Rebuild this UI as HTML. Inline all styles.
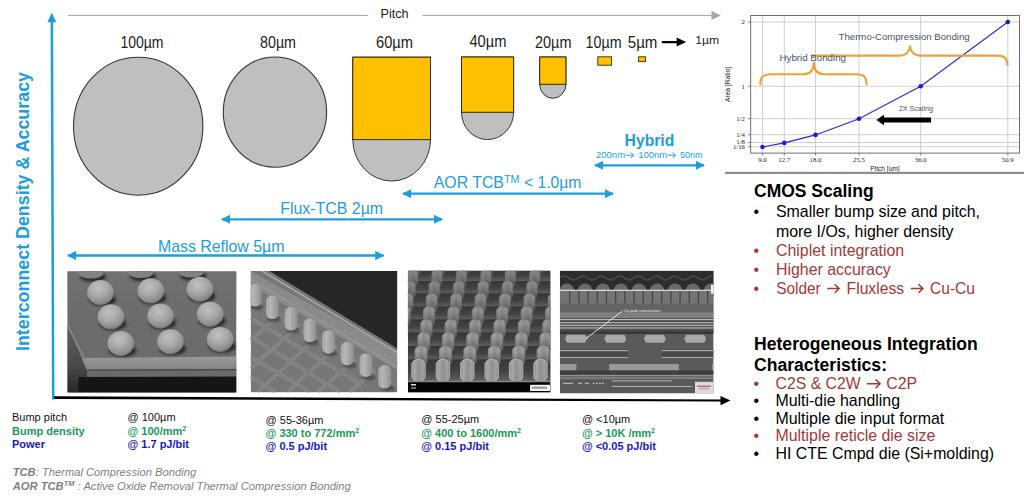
<!DOCTYPE html>
<html><head><meta charset="utf-8">
<style>
html,body{margin:0;padding:0;background:#fff;}
body{width:1024px;height:499px;overflow:hidden;position:relative;font-family:"Liberation Sans",sans-serif;}
svg{position:absolute;left:0;top:0;}

</style></head><body>
<svg width="1024" height="499" viewBox="0 0 1024 499">
<defs>
<marker id="bh" viewBox="0 0 10 10" refX="9" refY="5" markerWidth="4" markerHeight="4" orient="auto-start-reverse"><path d="M0,0 L10,5 L0,10 z" fill="#1c9ddd"/></marker>
<clipPath id="c1"><rect x="67.3" y="271.3" width="169.2" height="121.3"/></clipPath>
<clipPath id="c2"><rect x="250.6" y="271" width="146.7" height="121.4"/></clipPath>
<clipPath id="c3"><rect x="407.9" y="270.7" width="142.6" height="121.7"/></clipPath>
<clipPath id="c4"><rect x="559.9" y="270.7" width="153.7" height="122.8"/></clipPath>
<filter id="blur1" x="-50%" y="-50%" width="200%" height="200%"><feGaussianBlur stdDeviation="1.6"/></filter>
<linearGradient id="g1top" x1="0" y1="0" x2="0" y2="1"><stop offset="0" stop-color="#727272"/><stop offset="1" stop-color="#6c6c6c" stop-opacity="0"/></linearGradient>
<radialGradient id="gb" cx="0.42" cy="0.32" r="0.7"><stop offset="0" stop-color="#c0c0c0"/><stop offset="0.5" stop-color="#a8a8a8"/><stop offset="0.85" stop-color="#8c8c8c"/><stop offset="1" stop-color="#727272"/></radialGradient>
<linearGradient id="gp" x1="0" y1="0" x2="1" y2="0"><stop offset="0" stop-color="#a5a5a5"/><stop offset="0.35" stop-color="#b6b6b6"/><stop offset="1" stop-color="#8e8e8e"/></linearGradient>
<linearGradient id="gp3" x1="0" y1="0" x2="1" y2="0"><stop offset="0" stop-color="#8a8a8a"/><stop offset="0.2" stop-color="#a8a8a8"/><stop offset="0.5" stop-color="#909090"/><stop offset="0.85" stop-color="#a0a0a0"/><stop offset="1" stop-color="#7a7a7a"/></linearGradient>
<linearGradient id="gp3v" x1="0" y1="0" x2="0" y2="1"><stop offset="0.3" stop-color="#000" stop-opacity="0"/><stop offset="1" stop-color="#000" stop-opacity="0.4"/></linearGradient>
<linearGradient id="g3bg" x1="0" y1="0" x2="0" y2="1"><stop offset="0" stop-color="#4a4a4a"/><stop offset="0.6" stop-color="#404040"/><stop offset="1" stop-color="#383838"/></linearGradient>
<linearGradient id="g1wall" x1="0" y1="0" x2="0" y2="1"><stop offset="0" stop-color="#5e5e5e"/><stop offset="0.6" stop-color="#4a4a4a"/><stop offset="1" stop-color="#262626"/></linearGradient>
<linearGradient id="g1band" x1="0" y1="0" x2="0" y2="1"><stop offset="0" stop-color="#9a9a9a"/><stop offset="1" stop-color="#828282"/></linearGradient>
<linearGradient id="g3band" x1="0" y1="0" x2="0" y2="1"><stop offset="0" stop-color="#363636"/><stop offset="0.55" stop-color="#424242"/><stop offset="1" stop-color="#5e5e5e"/></linearGradient>
</defs>
<!-- axes -->
<path d="M50.6,21 L53.1,21 L54.45,399.6 L51.95,399.6 z" fill="#1c9ddd"/>
<path d="M47.4,22.3 L51.8,12.5 L56.2,22.3 z" fill="#1c9ddd"/>
<path d="M54,396.3 L721,399.5 L721,401.6 L54,398.9 z" fill="#000"/>
<path d="M720.5,396 L730.5,400.6 L720.5,405.3 z" fill="#000"/>
<!-- pitch line -->
<rect x="68" y="14.9" width="645" height="1" fill="#a6a6a6"/>
<path d="M711.5,11 L721,15.4 L711.5,19.8 z" fill="#a6a6a6"/>
<rect x="368" y="5" width="54.5" height="18" fill="#fff"/>
<text x="380.5" y="17.7" font-size="12.6" fill="#222">Pitch</text>
<!-- rotated label -->
<text transform="translate(28.5,351) rotate(-90)" font-size="17.85" font-weight="bold" fill="#1c9ddd">Interconnect Density &amp; Accuracy</text>

<!-- size labels -->
<g font-size="16.2" fill="#222">
<text x="120.5" y="48" textLength="43" lengthAdjust="spacingAndGlyphs">100µm</text>
<text x="260" y="48" textLength="36" lengthAdjust="spacingAndGlyphs">80µm</text>
<text x="376" y="47.6" textLength="37" lengthAdjust="spacingAndGlyphs">60µm</text>
<text x="469.4" y="47" textLength="37" lengthAdjust="spacingAndGlyphs">40µm</text>
<text x="535" y="47.6" textLength="36.5" lengthAdjust="spacingAndGlyphs">20µm</text>
<text x="585.6" y="47.6" textLength="36" lengthAdjust="spacingAndGlyphs">10µm</text>
<text x="627.8" y="47.6" textLength="29.6" lengthAdjust="spacingAndGlyphs">5µm</text>
</g>
<text x="695.3" y="44" font-size="11" fill="#222" textLength="24" lengthAdjust="spacingAndGlyphs">1µm</text>
<rect x="661.6" y="41" width="16" height="2.3" rx="1.1" fill="#000"/>
<path d="M676.6,37.6 L686.1,42.1 L676.6,46.6 z" fill="#000"/>

<!-- circles -->
<ellipse cx="138.2" cy="126.2" rx="64.7" ry="69" fill="#bfbfbf" stroke="#333" stroke-width="1.1"/>
<ellipse cx="274.95" cy="112.1" rx="51.65" ry="55.1" fill="#bfbfbf" stroke="#333" stroke-width="1.1"/>
<!-- bumps -->
<path d="M352.8,139.6 L352.8,57.2 L430.5,57.2 L430.5,139.6 A38.85,41.40 0 0 1 352.8,139.6 z" fill="#bfbfbf" stroke="#333" stroke-width="1"/>
<rect x="352.8" y="57.2" width="77.70" height="82.40" fill="#ffc000" stroke="#3a2a00" stroke-width="1"/>
<path d="M461.5,112.3 L461.5,57 L513.6,57 L513.6,112.3 A26.05,27.30 0 0 1 461.5,112.3 z" fill="#bfbfbf" stroke="#333" stroke-width="1"/>
<rect x="461.5" y="57" width="52.10" height="55.30" fill="#ffc000" stroke="#3a2a00" stroke-width="1"/>
<path d="M539.7,84.3 L539.7,57 L565.9,57 L565.9,84.3 A13.10,14.00 0 0 1 539.7,84.3 z" fill="#bfbfbf" stroke="#333" stroke-width="1"/>
<rect x="539.7" y="57" width="26.20" height="27.30" fill="#ffc000" stroke="#3a2a00" stroke-width="1"/>
<rect x="597.8" y="56.8" width="13.8" height="8.4" fill="#ffc000" stroke="#3a2a00" stroke-width="0.9"/>
<rect x="638.6" y="56.8" width="7" height="4.8" fill="#ffc000" stroke="#3a2a00" stroke-width="0.9"/>

<!-- blue arrows -->
<g stroke="#1c9ddd" stroke-width="2.3" fill="none" marker-start="url(#bh)" marker-end="url(#bh)">
<line x1="595" y1="165.3" x2="704" y2="165.3"/>
<line x1="403" y1="193.7" x2="613" y2="193.7"/>
<line x1="222" y1="219.3" x2="442" y2="219.3"/>
<line x1="68" y1="255.5" x2="383.5" y2="255.5"/>
</g>
<g fill="#1c9ddd">
<text x="624.6" y="145.6" font-size="15.7" font-weight="bold">Hybrid</text>
<text x="596" y="158.3" font-size="9.5">200nm</text><path d="M626,155.2 L633.1,155.2 M630.8000000000001,152.39999999999998 L633.6,155.2 L630.8000000000001,158.0" fill="none" stroke="#1c9ddd" stroke-width="1.0" stroke-linejoin="miter"/><text x="638.2" y="158.3" font-size="9.5">100nm</text><path d="M667.8,155.2 L675.1,155.2 M672.8000000000001,152.39999999999998 L675.6,155.2 L672.8000000000001,158.0" fill="none" stroke="#1c9ddd" stroke-width="1.0" stroke-linejoin="miter"/><text x="680" y="158.3" font-size="9.5" textLength="22.5" lengthAdjust="spacingAndGlyphs">50nm</text>
<text x="433.8" y="188" font-size="15.85">AOR TCB<tspan font-size="10.8" dy="-5">TM</tspan><tspan dy="5" font-size="15.7"> &lt; 1.0µm</tspan></text>
<text x="280.3" y="214.1" font-size="15.9">Flux-TCB 2µm</text>
<text x="157.9" y="251.6" font-size="15.9">Mass Reflow 5µm</text>
</g>

<!-- SEM image 1 -->
<g clip-path="url(#c1)">
<rect x="67.3" y="271.3" width="169.2" height="121.3" fill="#6c6c6c"/>
<rect x="67.3" y="271.3" width="169.2" height="60" fill="url(#g1top)"/>
<path d="M67.3,325 L87,371 L87,377 L78.5,393 L67.3,393 z" fill="url(#g1wall)"/>
<path d="M82,358 L236.5,356.5 L236.5,369.5 L87,370 z" fill="url(#g1band)"/>
<path d="M87,370 L236.5,369.5 L236.5,376.5 L87,377 z" fill="#6a6a6a"/><path d="M87,370.2 L236.5,369.7" stroke="#474747" stroke-width="1.2"/>
<path d="M78.5,377 L236.5,376.5 L236.5,393 L78.5,393 z" fill="#151515"/>
<path d="M67.3,325 L88,366" stroke="#8a8a8a" stroke-width="1.5" fill="none"/>
<g fill="#2a2a2a" filter="url(#blur1)">
<ellipse cx="93" cy="277" rx="13" ry="5"/>
<ellipse cx="143" cy="276.5" rx="13" ry="5"/>
<ellipse cx="193.4" cy="276" rx="13" ry="5"/>
<ellipse cx="102.5" cy="299.5" rx="13.5" ry="6.5"/>
<ellipse cx="152.8" cy="297.8" rx="13.5" ry="6.5"/>
<ellipse cx="201.9" cy="296.2" rx="13.5" ry="6.5"/>
<ellipse cx="113" cy="323.8" rx="13.5" ry="6.5"/>
<ellipse cx="162.6" cy="323" rx="13.5" ry="6.5"/>
<ellipse cx="212.2" cy="321.2" rx="13.5" ry="6.5"/>
<ellipse cx="122.8" cy="350.5" rx="13.5" ry="6.5"/>
<ellipse cx="172.5" cy="348.7" rx="13.5" ry="6.5"/>
<ellipse cx="222.2" cy="346.4" rx="13.5" ry="6.5"/>
</g>
<g fill="url(#gb)">
<ellipse cx="91" cy="273" rx="12.5" ry="5.5" fill="#828282"/>
<ellipse cx="141" cy="272.5" rx="12.5" ry="5.5" fill="#828282"/>
<ellipse cx="191.4" cy="272" rx="12.5" ry="5.5" fill="#828282"/>
<ellipse cx="100.5" cy="292.5" rx="13.3" ry="12.5"/>
<ellipse cx="150.8" cy="290.8" rx="13.3" ry="12.5"/>
<ellipse cx="199.9" cy="289.2" rx="13.3" ry="12.5"/>
<ellipse cx="111" cy="316.8" rx="13.3" ry="12.5"/>
<ellipse cx="160.6" cy="316" rx="13.3" ry="12.5"/>
<ellipse cx="210.2" cy="314.2" rx="13.3" ry="12.5"/>
<ellipse cx="120.8" cy="343.5" rx="13.3" ry="12.5"/>
<ellipse cx="170.5" cy="341.7" rx="13.3" ry="12.5"/>
<ellipse cx="220.2" cy="339.4" rx="13.3" ry="12.5"/>
</g>
</g>
<!-- SEM image 2 -->
<g clip-path="url(#c2)">
<rect x="250.6" y="271" width="146.7" height="121.4" fill="#777"/>
<path d="M250.6,271 L250.6,285 L397.3,370 L397.3,352 z" fill="#8a8a8a"/>
<path d="M262,271 L397.3,352.5" stroke="#b0b0b0" stroke-width="1.4"/>
<path d="M250.6,279 L397.3,367" stroke="#a0a0a0" stroke-width="1"/>
<path d="M269.2,271 L397.3,271 L397.3,348.4 z" fill="#262626"/>
<g stroke="#8e8e8e" stroke-width="3" fill="none">
<path d="M250.6,300 L397.3,388"/><path d="M250.6,318 L360,384"/><path d="M250.6,337 L340,392"/><path d="M250.6,357 L310,392"/><path d="M250.6,377 L275,392"/>
<path d="M262,302 L250.6,312"/><path d="M282,314 L250.6,340"/><path d="M300,325 L250.6,368"/><path d="M318,336 L258,392"/><path d="M337,347 L287,392"/><path d="M356,359 L318,392"/><path d="M375,370 L350,392"/>
</g><g stroke="#747474" stroke-width="1" fill="none">
<path d="M250.6,300 L397.3,388"/><path d="M250.6,318 L360,384"/><path d="M250.6,337 L340,392"/><path d="M250.6,357 L310,392"/><path d="M250.6,377 L275,392"/>
<path d="M262,302 L250.6,312"/><path d="M282,314 L250.6,340"/><path d="M300,325 L250.6,368"/><path d="M318,336 L258,392"/><path d="M337,347 L287,392"/><path d="M356,359 L318,392"/><path d="M375,370 L350,392"/>
</g>
<g fill="#4a4a4a" filter="url(#blur1)">
<ellipse cx="257" cy="307" rx="7" ry="3"/><ellipse cx="274" cy="319" rx="7" ry="3"/><ellipse cx="293" cy="330" rx="7" ry="3"/><ellipse cx="312" cy="342" rx="7" ry="3"/>
<ellipse cx="331" cy="353" rx="7" ry="3"/><ellipse cx="350" cy="365" rx="7" ry="3"/><ellipse cx="369" cy="377" rx="7" ry="3"/><ellipse cx="388" cy="388" rx="7" ry="3"/>
</g>
<g fill="url(#gp)">
<rect x="249" y="284" width="12.5" height="22.5" rx="6.2" ry="5.5"/>
<rect x="266" y="295.6" width="12.8" height="23.5" rx="6.3" ry="5.5"/>
<rect x="284.6" y="307" width="13" height="23.5" rx="6.4" ry="5.5"/>
<rect x="303.4" y="318.6" width="13" height="23.5" rx="6.4" ry="5.5"/>
<rect x="322.1" y="330.2" width="13" height="23.5" rx="6.4" ry="5.5"/>
<rect x="340.8" y="341.8" width="13" height="23.5" rx="6.4" ry="5.5"/>
<rect x="359.5" y="353.4" width="13" height="23.5" rx="6.4" ry="5.5"/>
<rect x="378.2" y="365" width="13" height="23.5" rx="6.4" ry="5.5"/>
</g>
</g>
<!-- SEM image 3 -->
<g clip-path="url(#c3)">
<rect x="407.9" y="270.7" width="142.6" height="121.7" fill="url(#g3bg)"/>
<g id="p3bands">
<rect x="407.9" y="260.0" width="142.6" height="10.0" fill="url(#g3band)"/>
<rect x="407.9" y="270.0" width="142.6" height="11.0" fill="url(#g3band)"/>
<rect x="407.9" y="281.0" width="142.6" height="12.5" fill="url(#g3band)"/>
<rect x="407.9" y="293.5" width="142.6" height="13.0" fill="url(#g3band)"/>
<rect x="407.9" y="306.5" width="142.6" height="13.0" fill="url(#g3band)"/>
<rect x="407.9" y="319.5" width="142.6" height="13.0" fill="url(#g3band)"/>
<rect x="407.9" y="332.5" width="142.6" height="13.5" fill="url(#g3band)"/>
<rect x="407.9" y="346.0" width="142.6" height="13.5" fill="url(#g3band)"/>
<rect x="407.9" y="359.5" width="142.6" height="21.0" fill="url(#g3band)"/>
</g>
<g id="p3rows">
<rect x="409.8" y="260.0" width="11.0" height="16.0" rx="5.5" ry="4.5" fill="url(#gp3)" opacity="0.60"/>
<rect x="409.8" y="260.0" width="11.0" height="16.0" rx="5.5" ry="4.5" fill="url(#gp3v)"/>
<rect x="434.2" y="260.0" width="11.0" height="16.0" rx="5.5" ry="4.5" fill="url(#gp3)" opacity="0.60"/>
<rect x="434.2" y="260.0" width="11.0" height="16.0" rx="5.5" ry="4.5" fill="url(#gp3v)"/>
<rect x="458.6" y="260.0" width="11.0" height="16.0" rx="5.5" ry="4.5" fill="url(#gp3)" opacity="0.60"/>
<rect x="458.6" y="260.0" width="11.0" height="16.0" rx="5.5" ry="4.5" fill="url(#gp3v)"/>
<rect x="483.0" y="260.0" width="11.0" height="16.0" rx="5.5" ry="4.5" fill="url(#gp3)" opacity="0.60"/>
<rect x="483.0" y="260.0" width="11.0" height="16.0" rx="5.5" ry="4.5" fill="url(#gp3v)"/>
<rect x="507.4" y="260.0" width="11.0" height="16.0" rx="5.5" ry="4.5" fill="url(#gp3)" opacity="0.60"/>
<rect x="507.4" y="260.0" width="11.0" height="16.0" rx="5.5" ry="4.5" fill="url(#gp3v)"/>
<rect x="531.8" y="260.0" width="11.0" height="16.0" rx="5.5" ry="4.5" fill="url(#gp3)" opacity="0.60"/>
<rect x="531.8" y="260.0" width="11.0" height="16.0" rx="5.5" ry="4.5" fill="url(#gp3v)"/>
<rect x="556.2" y="260.0" width="11.0" height="16.0" rx="5.5" ry="4.5" fill="url(#gp3)" opacity="0.60"/>
<rect x="556.2" y="260.0" width="11.0" height="16.0" rx="5.5" ry="4.5" fill="url(#gp3v)"/>
<rect x="580.6" y="260.0" width="11.0" height="16.0" rx="5.5" ry="4.5" fill="url(#gp3)" opacity="0.60"/>
<rect x="580.6" y="260.0" width="11.0" height="16.0" rx="5.5" ry="4.5" fill="url(#gp3v)"/>
<rect x="407.0" y="270.0" width="11.3" height="17.0" rx="5.7" ry="4.5" fill="url(#gp3)" opacity="0.65"/>
<rect x="407.0" y="270.0" width="11.3" height="17.0" rx="5.7" ry="4.5" fill="url(#gp3v)"/>
<rect x="431.4" y="270.0" width="11.3" height="17.0" rx="5.7" ry="4.5" fill="url(#gp3)" opacity="0.65"/>
<rect x="431.4" y="270.0" width="11.3" height="17.0" rx="5.7" ry="4.5" fill="url(#gp3v)"/>
<rect x="455.8" y="270.0" width="11.3" height="17.0" rx="5.7" ry="4.5" fill="url(#gp3)" opacity="0.65"/>
<rect x="455.8" y="270.0" width="11.3" height="17.0" rx="5.7" ry="4.5" fill="url(#gp3v)"/>
<rect x="480.2" y="270.0" width="11.3" height="17.0" rx="5.7" ry="4.5" fill="url(#gp3)" opacity="0.65"/>
<rect x="480.2" y="270.0" width="11.3" height="17.0" rx="5.7" ry="4.5" fill="url(#gp3v)"/>
<rect x="504.6" y="270.0" width="11.3" height="17.0" rx="5.7" ry="4.5" fill="url(#gp3)" opacity="0.65"/>
<rect x="504.6" y="270.0" width="11.3" height="17.0" rx="5.7" ry="4.5" fill="url(#gp3v)"/>
<rect x="529.0" y="270.0" width="11.3" height="17.0" rx="5.7" ry="4.5" fill="url(#gp3)" opacity="0.65"/>
<rect x="529.0" y="270.0" width="11.3" height="17.0" rx="5.7" ry="4.5" fill="url(#gp3v)"/>
<rect x="553.4" y="270.0" width="11.3" height="17.0" rx="5.7" ry="4.5" fill="url(#gp3)" opacity="0.65"/>
<rect x="553.4" y="270.0" width="11.3" height="17.0" rx="5.7" ry="4.5" fill="url(#gp3v)"/>
<rect x="577.8" y="270.0" width="11.3" height="17.0" rx="5.7" ry="4.5" fill="url(#gp3)" opacity="0.65"/>
<rect x="577.8" y="270.0" width="11.3" height="17.0" rx="5.7" ry="4.5" fill="url(#gp3v)"/>
<rect x="404.2" y="281.0" width="11.6" height="18.5" rx="5.8" ry="4.5" fill="url(#gp3)" opacity="0.70"/>
<rect x="404.2" y="281.0" width="11.6" height="18.5" rx="5.8" ry="4.5" fill="url(#gp3v)"/>
<rect x="428.6" y="281.0" width="11.6" height="18.5" rx="5.8" ry="4.5" fill="url(#gp3)" opacity="0.70"/>
<rect x="428.6" y="281.0" width="11.6" height="18.5" rx="5.8" ry="4.5" fill="url(#gp3v)"/>
<rect x="453.0" y="281.0" width="11.6" height="18.5" rx="5.8" ry="4.5" fill="url(#gp3)" opacity="0.70"/>
<rect x="453.0" y="281.0" width="11.6" height="18.5" rx="5.8" ry="4.5" fill="url(#gp3v)"/>
<rect x="477.4" y="281.0" width="11.6" height="18.5" rx="5.8" ry="4.5" fill="url(#gp3)" opacity="0.70"/>
<rect x="477.4" y="281.0" width="11.6" height="18.5" rx="5.8" ry="4.5" fill="url(#gp3v)"/>
<rect x="501.8" y="281.0" width="11.6" height="18.5" rx="5.8" ry="4.5" fill="url(#gp3)" opacity="0.70"/>
<rect x="501.8" y="281.0" width="11.6" height="18.5" rx="5.8" ry="4.5" fill="url(#gp3v)"/>
<rect x="526.2" y="281.0" width="11.6" height="18.5" rx="5.8" ry="4.5" fill="url(#gp3)" opacity="0.70"/>
<rect x="526.2" y="281.0" width="11.6" height="18.5" rx="5.8" ry="4.5" fill="url(#gp3v)"/>
<rect x="550.6" y="281.0" width="11.6" height="18.5" rx="5.8" ry="4.5" fill="url(#gp3)" opacity="0.70"/>
<rect x="550.6" y="281.0" width="11.6" height="18.5" rx="5.8" ry="4.5" fill="url(#gp3v)"/>
<rect x="575.0" y="281.0" width="11.6" height="18.5" rx="5.8" ry="4.5" fill="url(#gp3)" opacity="0.70"/>
<rect x="575.0" y="281.0" width="11.6" height="18.5" rx="5.8" ry="4.5" fill="url(#gp3v)"/>
<rect x="401.4" y="293.5" width="11.9" height="19.0" rx="6.0" ry="4.5" fill="url(#gp3)" opacity="0.75"/>
<rect x="401.4" y="293.5" width="11.9" height="19.0" rx="6.0" ry="4.5" fill="url(#gp3v)"/>
<rect x="425.8" y="293.5" width="11.9" height="19.0" rx="6.0" ry="4.5" fill="url(#gp3)" opacity="0.75"/>
<rect x="425.8" y="293.5" width="11.9" height="19.0" rx="6.0" ry="4.5" fill="url(#gp3v)"/>
<rect x="450.2" y="293.5" width="11.9" height="19.0" rx="6.0" ry="4.5" fill="url(#gp3)" opacity="0.75"/>
<rect x="450.2" y="293.5" width="11.9" height="19.0" rx="6.0" ry="4.5" fill="url(#gp3v)"/>
<rect x="474.6" y="293.5" width="11.9" height="19.0" rx="6.0" ry="4.5" fill="url(#gp3)" opacity="0.75"/>
<rect x="474.6" y="293.5" width="11.9" height="19.0" rx="6.0" ry="4.5" fill="url(#gp3v)"/>
<rect x="499.0" y="293.5" width="11.9" height="19.0" rx="6.0" ry="4.5" fill="url(#gp3)" opacity="0.75"/>
<rect x="499.0" y="293.5" width="11.9" height="19.0" rx="6.0" ry="4.5" fill="url(#gp3v)"/>
<rect x="523.4" y="293.5" width="11.9" height="19.0" rx="6.0" ry="4.5" fill="url(#gp3)" opacity="0.75"/>
<rect x="523.4" y="293.5" width="11.9" height="19.0" rx="6.0" ry="4.5" fill="url(#gp3v)"/>
<rect x="547.8" y="293.5" width="11.9" height="19.0" rx="6.0" ry="4.5" fill="url(#gp3)" opacity="0.75"/>
<rect x="547.8" y="293.5" width="11.9" height="19.0" rx="6.0" ry="4.5" fill="url(#gp3v)"/>
<rect x="572.2" y="293.5" width="11.9" height="19.0" rx="6.0" ry="4.5" fill="url(#gp3)" opacity="0.75"/>
<rect x="572.2" y="293.5" width="11.9" height="19.0" rx="6.0" ry="4.5" fill="url(#gp3v)"/>
<rect x="398.6" y="306.5" width="12.2" height="19.0" rx="6.1" ry="4.5" fill="url(#gp3)" opacity="0.80"/>
<rect x="398.6" y="306.5" width="12.2" height="19.0" rx="6.1" ry="4.5" fill="url(#gp3v)"/>
<rect x="423.0" y="306.5" width="12.2" height="19.0" rx="6.1" ry="4.5" fill="url(#gp3)" opacity="0.80"/>
<rect x="423.0" y="306.5" width="12.2" height="19.0" rx="6.1" ry="4.5" fill="url(#gp3v)"/>
<rect x="447.4" y="306.5" width="12.2" height="19.0" rx="6.1" ry="4.5" fill="url(#gp3)" opacity="0.80"/>
<rect x="447.4" y="306.5" width="12.2" height="19.0" rx="6.1" ry="4.5" fill="url(#gp3v)"/>
<rect x="471.8" y="306.5" width="12.2" height="19.0" rx="6.1" ry="4.5" fill="url(#gp3)" opacity="0.80"/>
<rect x="471.8" y="306.5" width="12.2" height="19.0" rx="6.1" ry="4.5" fill="url(#gp3v)"/>
<rect x="496.2" y="306.5" width="12.2" height="19.0" rx="6.1" ry="4.5" fill="url(#gp3)" opacity="0.80"/>
<rect x="496.2" y="306.5" width="12.2" height="19.0" rx="6.1" ry="4.5" fill="url(#gp3v)"/>
<rect x="520.6" y="306.5" width="12.2" height="19.0" rx="6.1" ry="4.5" fill="url(#gp3)" opacity="0.80"/>
<rect x="520.6" y="306.5" width="12.2" height="19.0" rx="6.1" ry="4.5" fill="url(#gp3v)"/>
<rect x="545.0" y="306.5" width="12.2" height="19.0" rx="6.1" ry="4.5" fill="url(#gp3)" opacity="0.80"/>
<rect x="545.0" y="306.5" width="12.2" height="19.0" rx="6.1" ry="4.5" fill="url(#gp3v)"/>
<rect x="569.4" y="306.5" width="12.2" height="19.0" rx="6.1" ry="4.5" fill="url(#gp3)" opacity="0.80"/>
<rect x="569.4" y="306.5" width="12.2" height="19.0" rx="6.1" ry="4.5" fill="url(#gp3v)"/>
<rect x="395.8" y="319.5" width="12.5" height="19.0" rx="6.2" ry="4.5" fill="url(#gp3)" opacity="0.85"/>
<rect x="395.8" y="319.5" width="12.5" height="19.0" rx="6.2" ry="4.5" fill="url(#gp3v)"/>
<rect x="420.2" y="319.5" width="12.5" height="19.0" rx="6.2" ry="4.5" fill="url(#gp3)" opacity="0.85"/>
<rect x="420.2" y="319.5" width="12.5" height="19.0" rx="6.2" ry="4.5" fill="url(#gp3v)"/>
<rect x="444.6" y="319.5" width="12.5" height="19.0" rx="6.2" ry="4.5" fill="url(#gp3)" opacity="0.85"/>
<rect x="444.6" y="319.5" width="12.5" height="19.0" rx="6.2" ry="4.5" fill="url(#gp3v)"/>
<rect x="469.0" y="319.5" width="12.5" height="19.0" rx="6.2" ry="4.5" fill="url(#gp3)" opacity="0.85"/>
<rect x="469.0" y="319.5" width="12.5" height="19.0" rx="6.2" ry="4.5" fill="url(#gp3v)"/>
<rect x="493.4" y="319.5" width="12.5" height="19.0" rx="6.2" ry="4.5" fill="url(#gp3)" opacity="0.85"/>
<rect x="493.4" y="319.5" width="12.5" height="19.0" rx="6.2" ry="4.5" fill="url(#gp3v)"/>
<rect x="517.8" y="319.5" width="12.5" height="19.0" rx="6.2" ry="4.5" fill="url(#gp3)" opacity="0.85"/>
<rect x="517.8" y="319.5" width="12.5" height="19.0" rx="6.2" ry="4.5" fill="url(#gp3v)"/>
<rect x="542.2" y="319.5" width="12.5" height="19.0" rx="6.2" ry="4.5" fill="url(#gp3)" opacity="0.85"/>
<rect x="542.2" y="319.5" width="12.5" height="19.0" rx="6.2" ry="4.5" fill="url(#gp3v)"/>
<rect x="566.6" y="319.5" width="12.5" height="19.0" rx="6.2" ry="4.5" fill="url(#gp3)" opacity="0.85"/>
<rect x="566.6" y="319.5" width="12.5" height="19.0" rx="6.2" ry="4.5" fill="url(#gp3v)"/>
<rect x="393.0" y="332.5" width="12.8" height="19.5" rx="6.4" ry="4.5" fill="url(#gp3)" opacity="0.90"/>
<rect x="393.0" y="332.5" width="12.8" height="19.5" rx="6.4" ry="4.5" fill="url(#gp3v)"/>
<rect x="417.4" y="332.5" width="12.8" height="19.5" rx="6.4" ry="4.5" fill="url(#gp3)" opacity="0.90"/>
<rect x="417.4" y="332.5" width="12.8" height="19.5" rx="6.4" ry="4.5" fill="url(#gp3v)"/>
<rect x="441.8" y="332.5" width="12.8" height="19.5" rx="6.4" ry="4.5" fill="url(#gp3)" opacity="0.90"/>
<rect x="441.8" y="332.5" width="12.8" height="19.5" rx="6.4" ry="4.5" fill="url(#gp3v)"/>
<rect x="466.2" y="332.5" width="12.8" height="19.5" rx="6.4" ry="4.5" fill="url(#gp3)" opacity="0.90"/>
<rect x="466.2" y="332.5" width="12.8" height="19.5" rx="6.4" ry="4.5" fill="url(#gp3v)"/>
<rect x="490.6" y="332.5" width="12.8" height="19.5" rx="6.4" ry="4.5" fill="url(#gp3)" opacity="0.90"/>
<rect x="490.6" y="332.5" width="12.8" height="19.5" rx="6.4" ry="4.5" fill="url(#gp3v)"/>
<rect x="515.0" y="332.5" width="12.8" height="19.5" rx="6.4" ry="4.5" fill="url(#gp3)" opacity="0.90"/>
<rect x="515.0" y="332.5" width="12.8" height="19.5" rx="6.4" ry="4.5" fill="url(#gp3v)"/>
<rect x="539.4" y="332.5" width="12.8" height="19.5" rx="6.4" ry="4.5" fill="url(#gp3)" opacity="0.90"/>
<rect x="539.4" y="332.5" width="12.8" height="19.5" rx="6.4" ry="4.5" fill="url(#gp3v)"/>
<rect x="563.8" y="332.5" width="12.8" height="19.5" rx="6.4" ry="4.5" fill="url(#gp3)" opacity="0.90"/>
<rect x="563.8" y="332.5" width="12.8" height="19.5" rx="6.4" ry="4.5" fill="url(#gp3v)"/>
<rect x="390.2" y="346.0" width="13.1" height="19.5" rx="6.5" ry="4.5" fill="url(#gp3)" opacity="0.95"/>
<rect x="390.2" y="346.0" width="13.1" height="19.5" rx="6.5" ry="4.5" fill="url(#gp3v)"/>
<rect x="414.6" y="346.0" width="13.1" height="19.5" rx="6.5" ry="4.5" fill="url(#gp3)" opacity="0.95"/>
<rect x="414.6" y="346.0" width="13.1" height="19.5" rx="6.5" ry="4.5" fill="url(#gp3v)"/>
<rect x="439.0" y="346.0" width="13.1" height="19.5" rx="6.5" ry="4.5" fill="url(#gp3)" opacity="0.95"/>
<rect x="439.0" y="346.0" width="13.1" height="19.5" rx="6.5" ry="4.5" fill="url(#gp3v)"/>
<rect x="463.4" y="346.0" width="13.1" height="19.5" rx="6.5" ry="4.5" fill="url(#gp3)" opacity="0.95"/>
<rect x="463.4" y="346.0" width="13.1" height="19.5" rx="6.5" ry="4.5" fill="url(#gp3v)"/>
<rect x="487.8" y="346.0" width="13.1" height="19.5" rx="6.5" ry="4.5" fill="url(#gp3)" opacity="0.95"/>
<rect x="487.8" y="346.0" width="13.1" height="19.5" rx="6.5" ry="4.5" fill="url(#gp3v)"/>
<rect x="512.2" y="346.0" width="13.1" height="19.5" rx="6.5" ry="4.5" fill="url(#gp3)" opacity="0.95"/>
<rect x="512.2" y="346.0" width="13.1" height="19.5" rx="6.5" ry="4.5" fill="url(#gp3v)"/>
<rect x="536.6" y="346.0" width="13.1" height="19.5" rx="6.5" ry="4.5" fill="url(#gp3)" opacity="0.95"/>
<rect x="536.6" y="346.0" width="13.1" height="19.5" rx="6.5" ry="4.5" fill="url(#gp3v)"/>
<rect x="561.0" y="346.0" width="13.1" height="19.5" rx="6.5" ry="4.5" fill="url(#gp3)" opacity="0.95"/>
<rect x="561.0" y="346.0" width="13.1" height="19.5" rx="6.5" ry="4.5" fill="url(#gp3v)"/>
<rect x="387.4" y="359.5" width="13.4" height="22.0" rx="6.7" ry="4.5" fill="url(#gp3)" opacity="1.00" stroke="#c4c4c4" stroke-width="0.8"/>
<rect x="411.8" y="359.5" width="13.4" height="22.0" rx="6.7" ry="4.5" fill="url(#gp3)" opacity="1.00" stroke="#c4c4c4" stroke-width="0.8"/>
<rect x="436.2" y="359.5" width="13.4" height="22.0" rx="6.7" ry="4.5" fill="url(#gp3)" opacity="1.00" stroke="#c4c4c4" stroke-width="0.8"/>
<rect x="460.6" y="359.5" width="13.4" height="22.0" rx="6.7" ry="4.5" fill="url(#gp3)" opacity="1.00" stroke="#c4c4c4" stroke-width="0.8"/>
<rect x="485.0" y="359.5" width="13.4" height="22.0" rx="6.7" ry="4.5" fill="url(#gp3)" opacity="1.00" stroke="#c4c4c4" stroke-width="0.8"/>
<rect x="509.4" y="359.5" width="13.4" height="22.0" rx="6.7" ry="4.5" fill="url(#gp3)" opacity="1.00" stroke="#c4c4c4" stroke-width="0.8"/>
<rect x="533.8" y="359.5" width="13.4" height="22.0" rx="6.7" ry="4.5" fill="url(#gp3)" opacity="1.00" stroke="#c4c4c4" stroke-width="0.8"/>
<rect x="558.2" y="359.5" width="13.4" height="22.0" rx="6.7" ry="4.5" fill="url(#gp3)" opacity="1.00" stroke="#c4c4c4" stroke-width="0.8"/>
</g>
<rect x="407.9" y="380.5" width="142.6" height="2" fill="#8a8a8a"/>
<rect x="407.9" y="382.3" width="142.6" height="10.2" fill="#050505"/>
<rect x="530.1" y="384.8" width="19.9" height="6.2" fill="#f2f2f2"/><rect x="532" y="386.6" width="15" height="2.2" fill="#9a9a9a"/>
<rect x="411" y="384" width="5" height="1.5" fill="#ddd"/>
<rect x="411" y="387.5" width="5" height="1" fill="#ddd"/>
</g>
<!-- SEM image 4 -->
<g clip-path="url(#c4)">
<rect x="559.9" y="270.7" width="153.7" height="122.8" fill="#5a5a5a"/>
<rect x="559.9" y="270.7" width="153.7" height="19.7" fill="#2c2c2c"/>
<path d="M559.9,278 q4.6,-4 9.2,0 t9.2,0 t9.2,0 t9.2,0 t9.2,0 t9.2,0 t9.2,0 t9.2,0 t9.2,0 t9.2,0 t9.2,0 t9.2,0 t9.2,0 t9.2,0 t9.2,0 t9.2,0 t9.2,0" stroke="#4c4c4c" stroke-width="1.6" fill="none"/>
<g fill="#6a6a6a">
<ellipse cx="567" cy="290" rx="7" ry="6.5"/><ellipse cx="585" cy="290" rx="7" ry="6.5"/><ellipse cx="603" cy="290" rx="7" ry="6.5"/><ellipse cx="621" cy="290" rx="7" ry="6.5"/>
<ellipse cx="639" cy="290" rx="7" ry="6.5"/><ellipse cx="657" cy="290" rx="7" ry="6.5"/><ellipse cx="675" cy="290" rx="7" ry="6.5"/><ellipse cx="693" cy="290" rx="7" ry="6.5"/><ellipse cx="711" cy="290" rx="7" ry="6.5"/>
</g>
<rect x="559.9" y="290.4" width="153.7" height="13.5" fill="#747474"/>
<rect x="559.9" y="289.7" width="153.7" height="1.3" fill="#d6d6d6"/>
<g fill="#454545"><rect x="569" y="291" width="1.3" height="12.5"/><rect x="578.2" y="291" width="1.3" height="12.5"/><rect x="587.4" y="291" width="1.3" height="12.5"/><rect x="596.6" y="291" width="1.3" height="12.5"/><rect x="605.8" y="291" width="1.3" height="12.5"/><rect x="615" y="291" width="1.3" height="12.5"/><rect x="624.2" y="291" width="1.3" height="12.5"/><rect x="633.4" y="291" width="1.3" height="12.5"/><rect x="642.6" y="291" width="1.3" height="12.5"/><rect x="651.8" y="291" width="1.3" height="12.5"/><rect x="661" y="291" width="1.3" height="12.5"/><rect x="670.2" y="291" width="1.3" height="12.5"/><rect x="679.4" y="291" width="1.3" height="12.5"/><rect x="688.6" y="291" width="1.3" height="12.5"/><rect x="697.8" y="291" width="1.3" height="12.5"/><rect x="707" y="291" width="1.3" height="12.5"/></g>
<rect x="559.9" y="303.9" width="153.7" height="8.3" fill="#646464"/>
<rect x="559.9" y="312.2" width="153.7" height="6" fill="#7e7e7e"/>
<rect x="559.9" y="318" width="153.7" height="13" fill="#4e4e4e"/>
<g fill="#bdbdbd"><rect x="559.9" y="319" width="153.7" height="1.1"/><rect x="559.9" y="322.2" width="153.7" height="1.1"/><rect x="559.9" y="324.8" width="153.7" height="1.1"/><rect x="559.9" y="327.4" width="153.7" height="1.1"/></g>
<rect x="559.9" y="331" width="153.7" height="3" fill="#3a3a3a"/>
<g fill="#a9a9a9">
<path d="M567,334.8 L585,334.8 L587,338.7 L585,342.7 L567,342.7 L565,338.7 z"/>
<path d="M606.4,334.8 L624.4,334.8 L626.4,338.7 L624.4,342.7 L606.4,342.7 L604.4,338.7 z"/>
<path d="M645.8,334.8 L663.8,334.8 L665.8,338.7 L663.8,342.7 L645.8,342.7 L643.8,338.7 z"/>
<path d="M686.2,334.8 L704.2,334.8 L706.2,338.7 L704.2,342.7 L686.2,342.7 L684.2,338.7 z"/>
</g>
<rect x="559.9" y="349.5" width="68" height="9" fill="#4a4a4a"/><rect x="661.5" y="349.5" width="52.1" height="9" fill="#4a4a4a"/>
<g fill="#a5a5a5"><rect x="559.9" y="350" width="68" height="1.2"/><rect x="559.9" y="356.9" width="68" height="1.2"/><rect x="661.5" y="350" width="52" height="1.2"/><rect x="661.5" y="356.9" width="52" height="1.2"/></g>
<g fill="#9a9a9a"><rect x="559.9" y="364.1" width="16.5" height="6.4"/><rect x="609.1" y="364.1" width="69.8" height="6.4"/><rect x="712" y="364.1" width="2" height="6.4"/></g>
<rect x="559.9" y="370.5" width="153.7" height="4" fill="#3e3e3e"/>
<g fill="#a0a0a0"><rect x="559.9" y="375.2" width="153.7" height="1"/><rect x="559.9" y="377.6" width="153.7" height="1"/></g>
<g fill="#c8c8c8"><rect x="563" y="382.8" width="10" height="1"/><rect x="578" y="382.8" width="4" height="1"/><rect x="585" y="382.8" width="4" height="1"/><rect x="593" y="382.8" width="2" height="1"/><rect x="596" y="382.8" width="2" height="1"/><rect x="599" y="382.8" width="2" height="1"/><rect x="602" y="382.8" width="2" height="1"/><rect x="612" y="380.5" width="60" height="0.8"/><rect x="612" y="386" width="80" height="0.8"/></g>
<rect x="695" y="381.8" width="18.6" height="11.7" fill="#e2dada"/><rect x="697" y="385.5" width="14" height="1.6" fill="#b07a7a"/><rect x="699" y="388.4" width="10" height="1" fill="#b59090"/>
<rect x="711" y="284.7" width="3" height="9" fill="#f4f4f4"/>
<path d="M587.2,337.6 L622.4,311" stroke="#f0f0f0" stroke-width="0.9"/>
<circle cx="587.2" cy="337.6" r="0.9" fill="#fff"/>
<text x="623.7" y="312" font-size="4.2" fill="#eee">Cu pad connections</text>
</g>

<!-- bottom table -->
<g font-size="11">
<text x="12" y="421.3" fill="#111">Bump pitch</text>
<text x="12" y="435" fill="#20985a" font-weight="bold">Bump density</text>
<text x="12" y="448.3" fill="#1818c0" font-weight="bold">Power</text>
<text x="127.5" y="421.3" fill="#111">@ 100µm</text>
<text x="127.5" y="435" fill="#20985a" font-weight="bold">@ 100/mm<tspan font-size="7" dy="-4">2</tspan></text>
<text x="127.5" y="448.3" fill="#1818c0" font-weight="bold">@ 1.7 pJ/bit</text>
<text x="265.6" y="423.5" fill="#111">@ 55-36µm</text>
<text x="265.6" y="436.9" fill="#20985a" font-weight="bold">@ 330 to 772/mm<tspan font-size="7" dy="-4">2</tspan></text>
<text x="265.6" y="450.0" fill="#1818c0" font-weight="bold">@ 0.5 pJ/bit</text>
<text x="421.3" y="423.2" fill="#111">@ 55-25µm</text>
<text x="421.3" y="436.6" fill="#20985a" font-weight="bold">@ 400 to 1600/mm<tspan font-size="7" dy="-4">2</tspan></text>
<text x="421.3" y="450.0" fill="#1818c0" font-weight="bold">@ 0.15 pJ/bit</text>
<text x="581.9" y="423.2" fill="#111">@ &lt;10µm</text>
<text x="581.9" y="436.6" fill="#20985a" font-weight="bold">@ &gt; 10K /mm<tspan font-size="7" dy="-4">2</tspan></text>
<text x="581.9" y="450.0" fill="#1818c0" font-weight="bold">@ &lt;0.05 pJ/bit</text>
</g>
<g font-size="11.2" fill="#7f7f7f" font-style="italic">
<text x="12.7" y="475.6"><tspan font-weight="bold">TCB</tspan>: Thermal Compression Bonding</text>
<text x="12.7" y="489.6"><tspan font-weight="bold">AOR TCB<tspan font-size="7.5" dy="-4">TM</tspan></tspan><tspan dy="4"> : Active Oxide Removal Thermal Compression Bonding</tspan></text>
</g>

<!-- chart -->
<g>
<g stroke="#cbcbcb" stroke-width="0.9">
<line x1="762.5" y1="15.5" x2="762.5" y2="153"/>
<line x1="784.3" y1="15.5" x2="784.3" y2="153"/>
<line x1="815.5" y1="15.5" x2="815.5" y2="153"/>
<line x1="859" y1="15.5" x2="859" y2="153"/>
<line x1="920.7" y1="15.5" x2="920.7" y2="153"/>
<line x1="1007.8" y1="15.5" x2="1007.8" y2="153"/>
<line x1="750.5" y1="22" x2="1019.5" y2="22"/>
<line x1="750.5" y1="86.3" x2="1019.5" y2="86.3"/>
<line x1="750.5" y1="118.7" x2="1019.5" y2="118.7"/>
<line x1="750.5" y1="134.7" x2="1019.5" y2="134.7"/>
<line x1="750.5" y1="142.5" x2="1019.5" y2="142.5"/>
<line x1="750.5" y1="146.7" x2="1019.5" y2="146.7"/>
</g>
<rect x="750.7" y="15.5" width="268.8" height="137.6" fill="none" stroke="#606060" stroke-width="0.9"/>
<g stroke="#606060" stroke-width="0.8">
<line x1="748" y1="22" x2="750.5" y2="22"/><line x1="748" y1="86.3" x2="750.5" y2="86.3"/>
<line x1="748" y1="118.7" x2="750.5" y2="118.7"/><line x1="748" y1="134.7" x2="750.5" y2="134.7"/>
<line x1="748" y1="142.5" x2="750.5" y2="142.5"/><line x1="748" y1="146.7" x2="750.5" y2="146.7"/>
<line x1="762.5" y1="153" x2="762.5" y2="155.5"/><line x1="784.3" y1="153" x2="784.3" y2="155.5"/>
<line x1="815.5" y1="153" x2="815.5" y2="155.5"/><line x1="859" y1="153" x2="859" y2="155.5"/>
<line x1="920.7" y1="153" x2="920.7" y2="155.5"/><line x1="1007.8" y1="153" x2="1007.8" y2="155.5"/>
</g>
<g font-family="Liberation Serif" font-size="6.8" fill="#222" text-anchor="end">
<text x="745" y="24.2">2</text><text x="745" y="88.5">1</text>
<text x="745" y="120.9">1/2</text><text x="745" y="136.9">1/4</text>
<text x="745" y="143.7">1/8</text><text x="745" y="149.4">1/16</text>
</g>
<g font-family="Liberation Serif" font-size="6.8" fill="#222" text-anchor="middle">
<text x="762.5" y="161.6">9.0</text><text x="784.3" y="161.6">12.7</text>
<text x="815.5" y="161.6">18.0</text><text x="859" y="161.6">25.5</text>
<text x="920.7" y="161.6">36.0</text><text x="1007.8" y="161.6">50.9</text>
<text x="885" y="171" font-family="Liberation Sans" font-size="6.6">Pitch [um]</text>
<text transform="translate(730.3,102) rotate(-90)" font-family="Liberation Sans" font-size="6.4" text-anchor="start" textLength="35" lengthAdjust="spacingAndGlyphs">Area [Ratio]</text>
</g>
<polyline points="762.5,147 784.3,142.9 815.5,134.9 859,118.7 920.7,86.3 1007.8,22" fill="none" stroke="#2727e6" stroke-width="1.1"/>
<g fill="#1a1ad8">
<circle cx="762.5" cy="147" r="2.3"/><circle cx="784.3" cy="142.9" r="2.3"/><circle cx="815.5" cy="134.9" r="2.3"/>
<circle cx="859" cy="118.7" r="2.3"/><circle cx="920.7" cy="86.3" r="2.3"/><circle cx="1007.8" cy="22" r="2.3"/>
</g>
<g fill="none" stroke="#eea336" stroke-width="2.1" stroke-linecap="round">
<path d="M760.3,84.5 C760.3,77 763,74.2 771,74.2 L804,74.2 C810,74.2 813.8,70 813.8,62 C813.8,70 817.6,74.2 823.6,74.2 L856,74.2 C864,74.2 866.5,77 866.5,84.5"/>
<path d="M812,55.6 L900,55.6 C906,55.6 910,51 910,45.6 C910,51 914,55.6 920,55.6 L998,55.6 C1005,55.6 1007.5,59 1007.5,65"/>
</g>
<g fill="#44546a" font-size="9.7">
<text x="779.6" y="61.4" textLength="66.4" lengthAdjust="spacingAndGlyphs">Hybrid Bonding</text>
<text x="838.6" y="39.6" textLength="131" lengthAdjust="spacingAndGlyphs">Thermo-Compression Bonding</text>
<text x="898.9" y="111.4" font-size="7.2" textLength="34" lengthAdjust="spacingAndGlyphs">2X Scaling</text>
</g>
<path d="M876.4,120 L884,114.7 L884,117.5 L931,117.5 L931,122.5 L884,122.5 L884,125.3 z" fill="#000"/>
<rect x="725" y="171.8" width="299" height="2.2" fill="#8c8c8c"/>
</g>

<!-- right text -->
<text x="754" y="196.9" font-size="17.5" font-weight="bold" fill="#000">CMOS Scaling</text>
<g font-size="15.9">
<text x="753.4" y="217.2" fill="#000">•</text>
<text x="776" y="217.2" fill="#000">Smaller bump size and pitch,</text>
<text x="776" y="236.6" fill="#000">more I/Os, higher density</text>
<text x="753.4" y="255.8" fill="#a33838">•</text>
<text x="776" y="255.8" fill="#a33838">Chiplet integration</text>
<text x="753.4" y="274.9" fill="#a33838">•</text>
<text x="776" y="274.9" fill="#a33838">Higher accuracy</text>
<text x="753.4" y="294" fill="#a33838">•</text>
<text x="776.3" y="294" fill="#a33838" textLength="44.4" lengthAdjust="spacingAndGlyphs">Solder</text><path d="M827.3,288.6 L838.6,288.6 M834.7,284.20000000000005 L839.1,288.6 L834.7,293.0" fill="none" stroke="#a33838" stroke-width="1.5" stroke-linejoin="miter"/><text x="846.6" y="294" fill="#a33838" textLength="57.5" lengthAdjust="spacingAndGlyphs">Fluxless</text><path d="M910.8,288.6 L922.4,288.6 M918.5,284.20000000000005 L922.9,288.6 L918.5,293.0" fill="none" stroke="#a33838" stroke-width="1.5" stroke-linejoin="miter"/><text x="930" y="294" fill="#a33838" textLength="45" lengthAdjust="spacingAndGlyphs">Cu-Cu</text>
</g>
<text x="754" y="350" font-size="17.6" font-weight="bold" fill="#000">Heterogeneous Integration</text>
<text x="754" y="371.1" font-size="17.6" font-weight="bold" fill="#000">Characteristics:</text>
<g font-size="15.9">
<text x="753.4" y="389" fill="#a33838">•</text>
<text x="775.6" y="389" fill="#a33838" textLength="85" lengthAdjust="spacingAndGlyphs">C2S &amp; C2W</text><path d="M866.9,383.75 L879.5,383.75 M875.6,379.35 L880,383.75 L875.6,388.15" fill="none" stroke="#a33838" stroke-width="1.5" stroke-linejoin="miter"/><text x="886.3" y="389" fill="#a33838">C2P</text>
<text x="753.4" y="406.4" fill="#000">•</text>
<text x="775.5" y="406.4" fill="#000">Multi-die handling</text>
<text x="753.4" y="424.3" fill="#000">•</text>
<text x="775.5" y="424.3" fill="#000">Multiple die input format</text>
<text x="753.4" y="441.3" fill="#a33838">•</text>
<text x="775.5" y="441.3" fill="#a33838">Multiple reticle die size</text>
<text x="753.4" y="458.5" fill="#000">•</text>
<text x="775.5" y="458.5" fill="#000">HI CTE Cmpd die (Si+molding)</text>
</g>
</svg>
</body></html>
